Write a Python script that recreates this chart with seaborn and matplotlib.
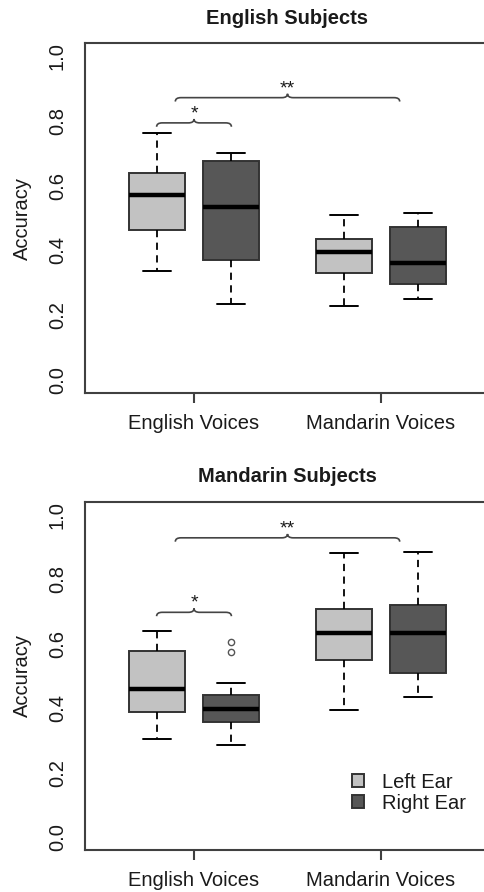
import numpy as np
import pandas as pd
import matplotlib
matplotlib.use("Agg")
import matplotlib.pyplot as plt
from matplotlib.path import Path
from matplotlib.patches import PathPatch
import seaborn as sns

# ---------------- data ----------------
voices = ["English Voices", "Mandarin Voices"]
ears = ["Left Ear", "Right Ear"]
panel_titles = ["English Subjects", "Mandarin Subjects"]
y_ticks = [0.0, 0.2, 0.4, 0.6, 0.8, 1.0]
y_tick_labels = ["0.0", "0.2", "0.4", "0.6", "0.8", "1.0"]

# English subjects (samples reproducing whisker-low, Q1, median, Q3, whisker-high)
es_eng_left = [0.337, 0.463, 0.571, 0.640, 0.764]
es_eng_right = [0.234, 0.370, 0.535, 0.676, 0.700]
es_man_left = [0.228, 0.330, 0.394, 0.436, 0.509]
es_man_right = [0.250, 0.295, 0.360, 0.471, 0.516]

# Mandarin subjects
ms_eng_left = [0.304, 0.387, 0.460, 0.577, 0.639]
ms_eng_right = [0.285, 0.320, 0.340, 0.357, 0.370, 0.385, 0.398,
                0.410, 0.425, 0.440, 0.477, 0.574, 0.604]
ms_man_left = [0.394, 0.549, 0.632, 0.707, 0.880]
ms_man_right = [0.434, 0.510, 0.632, 0.719, 0.883]

# significance brackets: (x0, x1, y, label)
es_brackets = [(-0.2, 0.2, 0.794, "*"), (-0.1, 1.1, 0.872, "**")]
ms_brackets = [(-0.2, 0.2, 0.697, "*"), (-0.1, 1.1, 0.928, "**")]


def long_frame(groups):
    rows = []
    for (voice, ear), vals in groups.items():
        for v in vals:
            rows.append({"voice": voice, "ear": ear, "acc": v})
    return pd.DataFrame(rows)


df_es = long_frame({
    (voices[0], ears[0]): es_eng_left, (voices[0], ears[1]): es_eng_right,
    (voices[1], ears[0]): es_man_left, (voices[1], ears[1]): es_man_right,
})
df_ms = long_frame({
    (voices[0], ears[0]): ms_eng_left, (voices[0], ears[1]): ms_eng_right,
    (voices[1], ears[0]): ms_man_left, (voices[1], ears[1]): ms_man_right,
})

# ---------------- style ----------------
sns.set_theme(style="white")
plt.rcParams["font.family"] = ["Liberation Sans", "DejaVu Sans"]
FS = 14.5
TXT = "#1a1a1a"
EDGE = "#333333"

fig = plt.figure(figsize=(4.85, 8.92), dpi=100)
W, H = 485.0, 892.0
RIGHT = 496.0
ax_top = fig.add_axes([85 / W, 1 - 392.7 / H, (RIGHT - 85) / W, (392.7 - 43.3) / H])
ax_bot = fig.add_axes([85 / W, 1 - 850.0 / H, (RIGHT - 85) / W, (850.0 - 501.7) / H])

palette = {"Left Ear": "#c2c2c2", "Right Ear": "#575757"}


def brace(ax, x0, x1, y, label, h=0.012, r=0.03):
    xm = (x0 + x1) / 2
    verts = [(x0, y - h), (x0, y), (x0 + r, y), (xm - r, y),
             (xm, y), (xm, y + h), (xm, y), (xm + r, y), (x1 - r, y),
             (x1, y), (x1, y - h)]
    codes = [Path.MOVETO, Path.CURVE3, Path.CURVE3, Path.LINETO,
             Path.CURVE3, Path.CURVE3, Path.CURVE3, Path.CURVE3, Path.LINETO,
             Path.CURVE3, Path.CURVE3]
    ax.add_patch(PathPatch(Path(verts, codes), fill=False, edgecolor="#444444",
                           lw=1.2, zorder=3))
    ax.text(xm, y + 0.028, label, ha="center", va="center", fontsize=14,
            color=TXT, zorder=3)


def draw_panel(ax, df, title, brackets, show_legend):
    sns.boxplot(data=df, x="voice", y="acc", hue="ear", order=voices,
                hue_order=ears, palette=palette, saturation=1, width=0.8,
                gap=0.25, linecolor=EDGE, linewidth=1.4, ax=ax,
                legend=show_legend,
                whiskerprops=dict(color="black", linestyle=(0, (4, 3)), linewidth=1.3),
                capprops=dict(color="black", linewidth=1.4),
                medianprops=dict(color="black", linewidth=3.2),
                flierprops=dict(marker="o", markersize=4.5, markerfacecolor="none",
                                markeredgecolor="#555555", markeredgewidth=1.0))
    ax.set_xlim(-0.583, (RIGHT - 194.0) / 187.0)
    ax.set_ylim(-0.04, 1.04)
    ax.set_yticks(y_ticks)
    ax.set_yticklabels(y_tick_labels, rotation=90, va="center", fontsize=FS, color=TXT)
    ax.tick_params(axis="y", length=0, pad=13)
    ax.tick_params(axis="x", length=7, width=1.5, color="#404040", direction="out",
                   pad=8, labelsize=FS, labelcolor=TXT, bottom=True)
    ax.set_xlabel("")
    ax.set_ylabel("Accuracy", fontsize=FS, color=TXT)
    ax.yaxis.set_label_coords(-0.13, 0.5)
    ax.set_title(title, fontsize=FS, fontweight="bold", color=TXT, pad=14,
                 x=(287.5 - 85) / (RIGHT - 85))
    for s in ax.spines.values():
        s.set_visible(True)
        s.set_color("#404040")
        s.set_linewidth(1.5)
    for x0, x1, y, lab in brackets:
        brace(ax, x0, x1, y, lab)
    if show_legend:
        handles, labels = ax.get_legend_handles_labels()
        leg = ax.legend(handles, labels, loc="center left",
                        bbox_to_anchor=((352 - 85) / (RIGHT - 85), 0.165),
                        frameon=False,
                        fontsize=FS, handlelength=0.6, handleheight=0.6,
                        handletextpad=0.9, labelspacing=0.1, borderpad=0,
                        borderaxespad=0)
        for t in leg.get_texts():
            t.set_color(TXT)


draw_panel(ax_top, df_es, panel_titles[0], es_brackets, False)
draw_panel(ax_bot, df_ms, panel_titles[1], ms_brackets, True)

fig.savefig("out.png", dpi=100, facecolor="white")
